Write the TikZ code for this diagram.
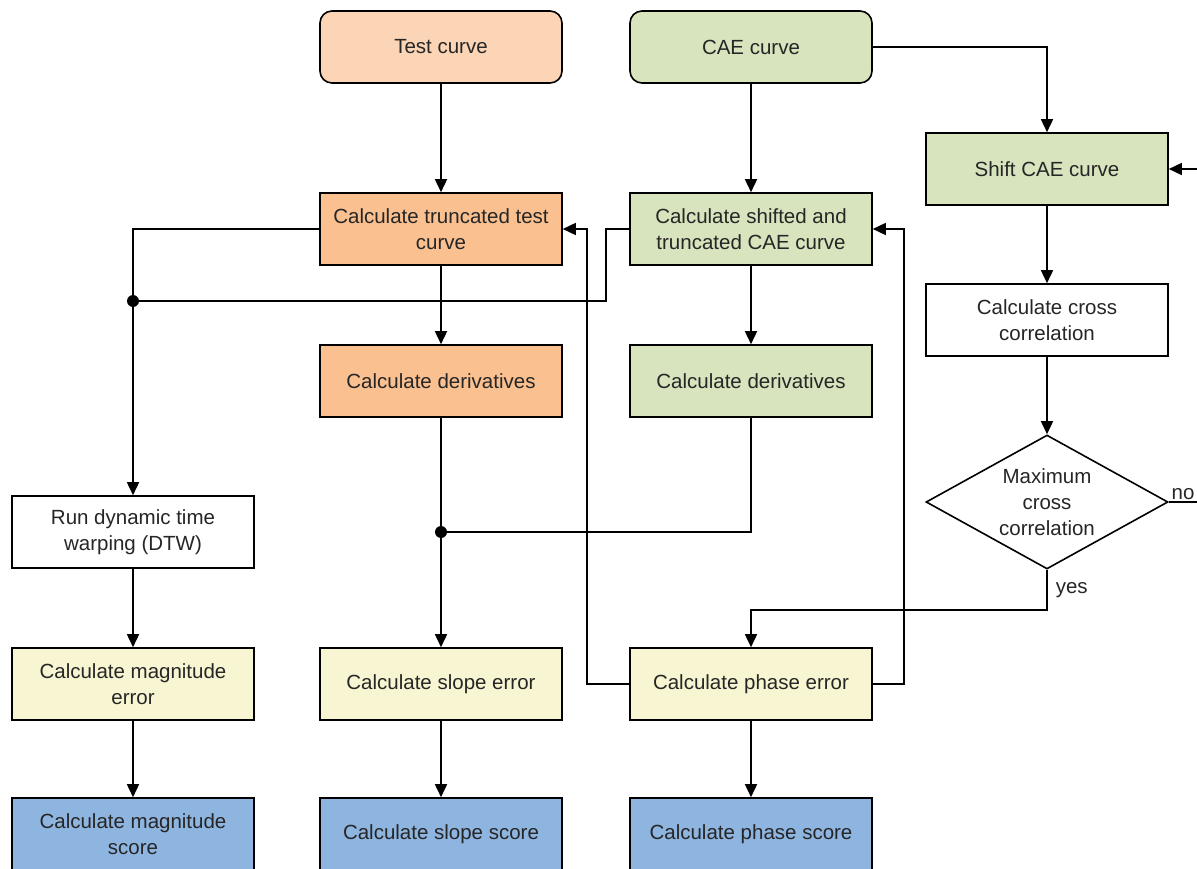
\documentclass[tikz,border=0pt]{standalone}
\usepackage{fontspec}
\setmainfont{Liberation Sans}
\usetikzlibrary{shapes.geometric, arrows.meta}
\definecolor{testfill}{HTML}{FBD5B5}
\definecolor{truncfill}{HTML}{FAC090}
\definecolor{caefill}{HTML}{D7E4BD}
\definecolor{errfill}{HTML}{F8F6D2}
\definecolor{scorefill}{HTML}{8EB4E0}
\definecolor{txt}{HTML}{262626}
\tikzset{
    > = {Triangle[length=13pt, width=12pt]},
    flow/.style = {->, line width=1.6pt},
    link/.style = {line width=1.6pt},
    box/.style = {draw, line width=1.6pt, minimum width=242pt, minimum height=72pt,
        align=center, text=txt, font=\fontsize{20.5}{26}\selectfont},
    start/.style = {box, rounded corners=12pt},
    decide/.style = {draw, diamond, aspect=1.8, inner sep=0pt, line width=1.6pt,
        minimum width=242pt, minimum height=134pt, align=center, text=txt,
        font=\fontsize{20.5}{26}\selectfont},
    junction/.style = {circle, fill, inner sep=0pt, minimum size=12pt}
}
\begin{document}
\begin{tikzpicture}[x=1pt, y=-1pt]
    \useasboundingbox (0,0) rectangle (1197,869);

    \node[start, fill=testfill] (test) at (441, 47) {Test curve};
    \node[start, fill=caefill] (cae) at (751, 47) {CAE curve};
    \node[box, fill=caefill] (shift) at (1047, 169) {Shift CAE curve};
    \node[box, fill=truncfill] (trunc) at (441, 229) {Calculate truncated test\\curve};
    \node[box, fill=caefill] (shtrunc) at (751, 229) {Calculate shifted and\\truncated CAE curve};
    \node[box, fill=white] (xcorr) at (1047, 320) {Calculate cross\\correlation};
    \node[box, fill=truncfill] (dertest) at (441, 381) {Calculate derivatives};
    \node[box, fill=caefill] (dercae) at (751, 381) {Calculate derivatives};
    \node[decide, fill=white] (maxcc) at (1047, 502) {Maximum\\cross\\correlation};
    \node[box, fill=white] (dtw) at (133, 532) {Run dynamic time\\warping (DTW)};
    \node[box, fill=errfill] (magerr) at (133, 684) {Calculate magnitude\\error};
    \node[box, fill=errfill] (slerr) at (441, 684) {Calculate slope error};
    \node[box, fill=errfill] (pherr) at (751, 684) {Calculate phase error};
    \node[box, fill=scorefill] (magsc) at (133, 834) {Calculate magnitude\\score};
    \node[box, fill=scorefill] (slsc) at (441, 834) {Calculate slope score};
    \node[box, fill=scorefill] (phsc) at (751, 834) {Calculate phase score};

    \node[junction] (j1) at (133, 301) {};
    \node[junction] (j2) at (441, 532) {};

    % curves in
    \draw[flow] (test) -- (trunc);
    \draw[flow] (cae) -- (shtrunc);
    \draw[flow] (cae.east) -| (shift.north);

    % shift loop
    \draw[flow] (shift) -- (xcorr);
    \draw[flow] (xcorr) -- (maxcc);
    \draw[flow] (maxcc.east) node[above right, text=txt, font=\fontsize{20.5}{26}\selectfont, inner sep=2pt] {no}
        -- ++(45,0) |- (shift.east);
    \draw[flow] (maxcc.south) -- node[right, text=txt, font=\fontsize{20.5}{26}\selectfont, inner sep=8pt] {yes}
        ++(0,40) -| (pherr.north);

    % magnitude branch
    \draw[flow] (trunc.west) -| (dtw.north);
    \draw[link] (shtrunc.west) -- ++(-23,0) |- (j1);
    \draw[flow] (dtw) -- (magerr);
    \draw[flow] (magerr) -- (magsc);

    % slope branch
    \draw[flow] (trunc) -- (dertest);
    \draw[flow] (shtrunc) -- (dercae);
    \draw[flow] (dertest) -- (slerr);
    \draw[link] (dercae.south) |- (j2);
    \draw[flow] (slerr) -- (slsc);

    % phase branch
    \draw[flow] (pherr.west) -- ++(-42,0) |- (trunc.east);
    \draw[flow] (pherr.east) -- ++(31,0) |- (shtrunc.east);
    \draw[flow] (pherr) -- (phsc);
\end{tikzpicture}
\end{document}
